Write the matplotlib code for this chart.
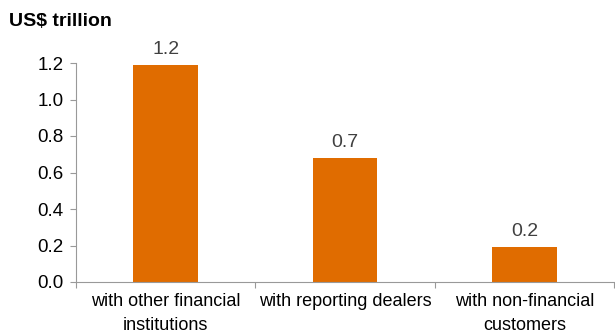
import matplotlib.pyplot as plt

categories = ["with other financial\ninstitutions", "with reporting dealers", "with non-financial\ncustomers"]
values = [1.19, 0.68, 0.19]
value_labels = ["1.2", "0.7", "0.2"]

plt.rcParams["font.family"] = ["Liberation Sans", "DejaVu Sans"]

fig = plt.figure(figsize=(6.15, 3.33), dpi=100)
ax = fig.add_axes([76 / 615, 1 - 282 / 333, 538 / 615, 219 / 333])

x = list(range(len(categories)))
bars = ax.bar(x, values, width=0.36, color="#E06C00")

for xi, v, lab in zip(x, values, value_labels):
    ax.annotate(lab, (xi, v), xytext=(0, 5), textcoords="offset points",
                ha="center", va="bottom", fontsize=14, color="#404040")

ax.set_xlim(-0.5, 2.5)
ax.set_ylim(0, 1.2)
ax.set_yticks([0, 0.2, 0.4, 0.6, 0.8, 1.0, 1.2])
ax.set_yticklabels(["0.0", "0.2", "0.4", "0.6", "0.8", "1.0", "1.2"])

# boundary ticks on x, labels at category centres
ax.set_xticks([-0.5, 0.5, 1.5, 2.5])
ax.set_xticklabels([])
ax.set_xticks(x, minor=True)
ax.set_xticklabels(categories, minor=True, fontsize=13, linespacing=1.55)
ax.tick_params(axis="x", which="minor", length=0, pad=8)
ax.tick_params(axis="x", which="major", length=4, color="#999999")
ax.tick_params(axis="y", length=4, color="#999999", labelsize=13.5, pad=5)

for side in ["top", "right"]:
    ax.spines[side].set_visible(False)
for side in ["left", "bottom"]:
    ax.spines[side].set_color("#999999")

fig.text(9 / 615, 1 - 21 / 333, "US$ trillion", fontsize=14, fontweight="bold", va="center", ha="left")

fig.savefig("out.png", dpi=100)
